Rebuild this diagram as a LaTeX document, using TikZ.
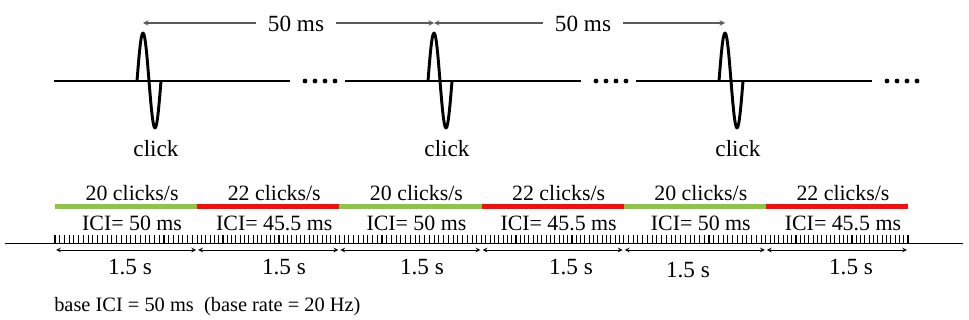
\documentclass[tikz,border=0pt]{standalone}
\usepackage{fontspec}
\setmainfont{Liberation Serif}
\definecolor{rategreen}{RGB}{141,198,63}
\definecolor{ratered}{RGB}{255,10,10}
\definecolor{dimgray}{RGB}{90,90,90}
\begin{document}
\begin{tikzpicture}[x=0.75pt, y=-0.75pt, >=stealth]
  \tikzstyle{sig}=[line width=1pt]
  \tikzstyle{wave}=[line width=2.2pt, line join=round]
  \tikzstyle{dim}=[dimgray, line width=0.8pt]
  \tikzstyle{toplbl}=[anchor=base, inner sep=0pt, font=\fontsize{17.4}{20}\selectfont]
  \tikzstyle{rate}=[anchor=base, inner sep=0pt, font=\fontsize{16.4}{19}\selectfont]
  \tikzstyle{dur}=[anchor=base, inner sep=0pt, font=\fontsize{17.4}{20}\selectfont]
  \tikzstyle{bar}=[line width=3pt]
  \useasboundingbox (0,0) rectangle (969,320);
  % click train
  \foreach \n/\dx in {1/0, 2/291, 3/582} {
    \draw[sig] ({54+\dx},81) -- ({290+\dx},81);
    \draw[wave] ({137+\dx},81) sin ({143+\dx},33) cos ({149+\dx},81)
      sin ({155+\dx},128) cos ({161+\dx},81);
    \coordinate (p\n) at ({143+\dx},23);
    \node[toplbl] (click\n) at ({156+\dx},157) {click};
    \foreach \k in {0,...,3}
      \fill ({305+10*\k+\dx},81) circle (2.4);
  }
  \draw[dim, <->] (p1) -- (p2);
  \draw[dim, <->] (p2) -- (p3);
  \node[toplbl, fill=white, inner xsep=9pt, inner ysep=2pt] (ms1) at (296,32) {50 ms};
  \node[toplbl, fill=white, inner xsep=9pt, inner ysep=2pt] (ms2) at (583,32) {50 ms};
  % time axis
  \coordinate (axL) at (5,243.5);
  \coordinate (axR) at (963,243.5);
  \draw[sig] (axL) -- (axR);
  \foreach \i in {0,...,6} {
    \coordinate (r\i) at ({55+142.17*\i},206.5);
    \coordinate (d\i) at ({55+142.17*\i},250);
  }
  \foreach \j/\i/\col/\hz/\ici/\nt/\lx/\ly in {
      0/1/rategreen/20/50/30/130/274,
      1/2/ratered/22/45.5/33/284/274,
      2/3/rategreen/20/50/30/422/274,
      3/4/ratered/22/45.5/33/571/274,
      4/5/rategreen/20/50/30/688/277,
      5/6/ratered/22/45.5/33/851/274} {
    \pgfmathsetmacro\xa{55+142.17*\j}
    \pgfmathsetmacro\xc{\xa+71.1+6}
    \draw[bar, \col] (r\j) -- (r\i);
    \foreach \k in {1,...,\nt}
      \draw[line width=0.8pt] ({\xa+142.17*(\k-1)/\nt},235) -- ++(0,8.5);
    \draw[line width=0.6pt, <->, shorten <=0.8pt, shorten >=0.8pt] (d\j) -- (d\i);
    \node[rate] (hz\i) at (\xc,200) {\hz{} clicks/s};
    \node[rate] (ici\i) at (\xc,230) {ICI= \ici{} ms};
    \node[dur] (len\i) at (\lx,\ly) {1.5 s};
  }
  \draw[line width=0.8pt] (908,235) -- (908,243.5);
  \node[rate, anchor=base west, font=\fontsize{15.3}{18}\selectfont] (base) at (54,311)
    {base ICI = 50 ms\ \ (base rate = 20 Hz)};
\end{tikzpicture}
\end{document}
